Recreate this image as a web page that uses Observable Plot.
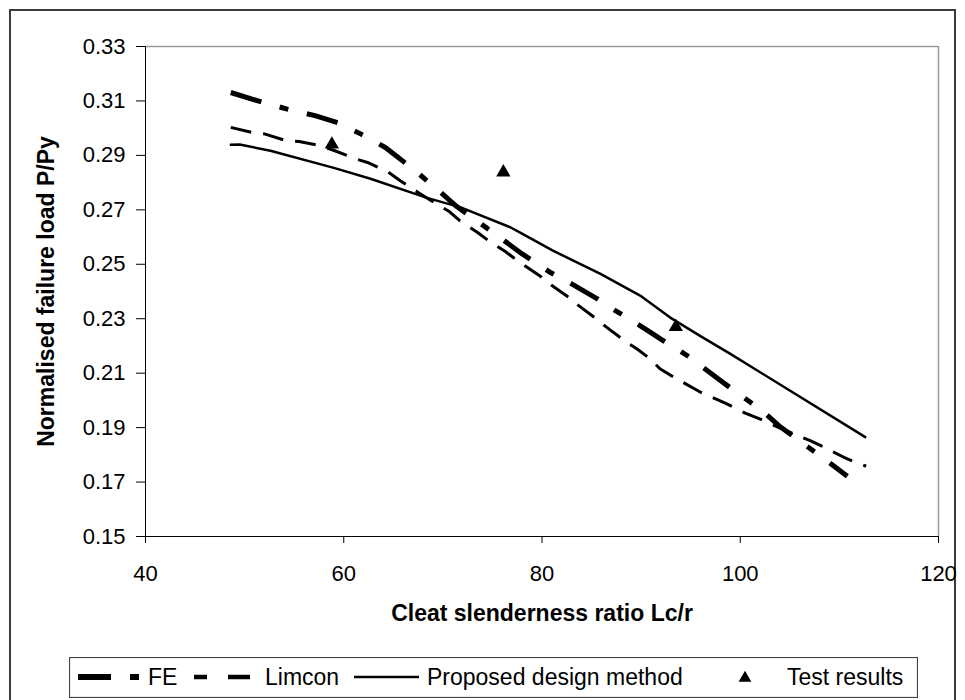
<!DOCTYPE html>
<html><head><meta charset="utf-8">
<script src="https://cdn.jsdelivr.net/npm/d3@7"></script>
<script src="https://cdn.jsdelivr.net/npm/@observablehq/plot@0.6"></script>
<style>
body{margin:0;background:#fff;font-family:"Liberation Sans",Arial,sans-serif;}
#wrap{position:relative;width:965px;height:700px;overflow:hidden;background:#fff;}
#frame{position:absolute;left:9px;top:9px;width:947px;height:710px;border:2px solid #3a3a3a;box-sizing:border-box;}
#chart{position:absolute;left:0;top:0;}
#legend{position:absolute;left:69px;top:657px;width:849px;height:41px;}
</style></head>
<body><div id="wrap"><div id="frame"></div><div id="chart"></div><div id="legend"></div></div>
<script>
// FE (finite element) curve
const feX = [48.6, 51.9, 54.3, 57.1, 59.5, 61.7, 62.7, 64.2, 65.4, 67.3, 69.5, 71.4, 74.1, 76.1, 78.0, 80.8, 82.9, 85.5, 87.4, 90.4, 92.3, 94.8, 98.0, 99.9, 102.2, 104.0, 106.6, 108.6, 110.8];
const feY = [0.3131, 0.3094, 0.3070, 0.3046, 0.3019, 0.2979, 0.2960, 0.2929, 0.2895, 0.2841, 0.2773, 0.2712, 0.2642, 0.2589, 0.2538, 0.2471, 0.2430, 0.2375, 0.2330, 0.2263, 0.2218, 0.2161, 0.2073, 0.2022, 0.1963, 0.1904, 0.1835, 0.1782, 0.1721];
// Limcon curve
const limX = [48.6, 50.8, 52.0, 54.2, 55.5, 57.6, 59.1, 61.2, 62.4, 64.5, 65.7, 67.5, 68.8, 70.6, 71.7, 73.5, 74.6, 76.3, 77.5, 79.8, 81.0, 82.7, 83.7, 85.6, 86.5, 88.4, 89.6, 90.9, 91.9, 93.3, 96.0, 98.6, 100.5, 101.9, 104.4, 107.0, 108.3, 110.4, 111.6, 112.7];
const limY = [0.3003, 0.2984, 0.2979, 0.2954, 0.2951, 0.2936, 0.2917, 0.2887, 0.2874, 0.2838, 0.2807, 0.2764, 0.2734, 0.2695, 0.2660, 0.2617, 0.2587, 0.2547, 0.2514, 0.2457, 0.2422, 0.2379, 0.2348, 0.2296, 0.2269, 0.2217, 0.2189, 0.2153, 0.2116, 0.2085, 0.2030, 0.1988, 0.1953, 0.1933, 0.1892, 0.1853, 0.1831, 0.1792, 0.1773, 0.1758];
// Proposed design method curve
const propX = [48.5, 49.5, 52.6, 59.0, 62.7, 68.4, 71.8, 76.8, 77.8, 81.1, 85.9, 89.9, 92.9, 95.9, 99.0, 112.7];
const propY = [0.2939, 0.2940, 0.2917, 0.2854, 0.2814, 0.2744, 0.2709, 0.2636, 0.2616, 0.2550, 0.2465, 0.2385, 0.2305, 0.2238, 0.2171, 0.1863];
// Test results
const testX = [58.8, 76.1, 93.5];
const testY = [0.2940, 0.2838, 0.2270];
// Axis ticks
const xTicks = [40, 60, 80, 100, 120];
const yTicks = [0.15, 0.17, 0.19, 0.21, 0.23, 0.25, 0.27, 0.29, 0.31, 0.33];
const xLabel = "Cleat slenderness ratio Lc/r";
const yLabel = "Normalised failure load P/Py";
const seriesNames = ["FE", "Limcon", "Proposed design method", "Test results"];

const rows = (xs, ys) => xs.map((x, i) => ({x, y: ys[i]}));
const font = '"Liberation Sans", Arial, sans-serif';

const chart = Plot.plot({
  width: 965, height: 650,
  marginTop: 46, marginLeft: 145, marginRight: 27, marginBottom: 114,
  style: {fontFamily: font, fontSize: "22px", color: "#000", background: "transparent", overflow: "visible"},
  x: {domain: [xTicks[0], xTicks[xTicks.length - 1]]},
  y: {domain: [yTicks[0], yTicks[yTicks.length - 1]]},
  marks: [
    Plot.ruleY([yTicks[yTicks.length - 1]], {stroke: "#9a9a9a", strokeWidth: 1.5}),
    Plot.ruleX([xTicks[xTicks.length - 1]], {stroke: "#9a9a9a", strokeWidth: 1.5}),
    Plot.ruleX([xTicks[0]], {stroke: "#000", strokeWidth: 1}),
    Plot.ruleY([yTicks[0]], {stroke: "#000", strokeWidth: 1}),
    Plot.axisX({ticks: xTicks, tickSize: 7, tickPadding: 22, fontSize: 22, label: null, stroke: "#000"}),
    Plot.axisY({ticks: yTicks, tickFormat: d3.format(".2f"), tickSize: 9, tickPadding: 11, fontSize: 22, label: null, stroke: "#000"}),
    Plot.text([xLabel], {frameAnchor: "bottom", dy: 84, fontWeight: "bold", fontSize: 23, fill: "#000"}),
    Plot.text([yLabel], {frameAnchor: "left", textAnchor: "middle", rotate: -90, dx: -99, fontWeight: "bold", fontSize: 23, fill: "#000"}),
    Plot.line(rows(propX, propY), {x: "x", y: "y", stroke: "#000", strokeWidth: 2.5, strokeLinecap: "butt"}),
    Plot.line(rows(limX, limY), {x: "x", y: "y", stroke: "#000", strokeWidth: 3, strokeDasharray: "21,12", strokeLinecap: "butt"}),
    Plot.line(rows(feX, feY), {x: "x", y: "y", stroke: "#000", strokeWidth: 5, strokeDasharray: "32,19,9,19", strokeLinecap: "butt"}),
    Plot.dot(rows(testX, testY), {x: "x", y: "y", symbol: "triangle", r: 5.3, fill: "#000", stroke: "none"})
  ]
});
document.getElementById("chart").appendChild(chart);

// Legend
const lg = d3.select("#legend").append("svg").attr("width", 849).attr("height", 41)
  .style("font-family", font).style("font-size", "23px");
lg.append("rect").attr("x", 0.5).attr("y", 0.5).attr("width", 848).attr("height", 40)
  .attr("fill", "#fff").attr("stroke", "#444").attr("stroke-width", 1.2);
const cy = 20;
lg.append("line").attr("x1", 9).attr("x2", 71).attr("y1", cy).attr("y2", cy)
  .attr("stroke", "#000").attr("stroke-width", 6).attr("stroke-dasharray", "33,19,9,200");
lg.append("text").attr("x", 79).attr("y", 28).text(seriesNames[0]);
lg.append("line").attr("x1", 125).attr("x2", 181).attr("y1", cy).attr("y2", cy)
  .attr("stroke", "#000").attr("stroke-width", 4.3).attr("stroke-dasharray", "13,21,22,100");
lg.append("text").attr("x", 196).attr("y", 28).text(seriesNames[1]);
lg.append("line").attr("x1", 285).attr("x2", 350).attr("y1", cy).attr("y2", cy)
  .attr("stroke", "#000").attr("stroke-width", 2.5);
lg.append("text").attr("x", 358).attr("y", 28).text(seriesNames[2]);
lg.append("path").attr("transform", `translate(676,${cy + 1})`)
  .attr("d", d3.symbol(d3.symbolTriangle, 70)()).attr("fill", "#000");
lg.append("text").attr("x", 718).attr("y", 28).text(seriesNames[3]);
</script>
</body></html>
